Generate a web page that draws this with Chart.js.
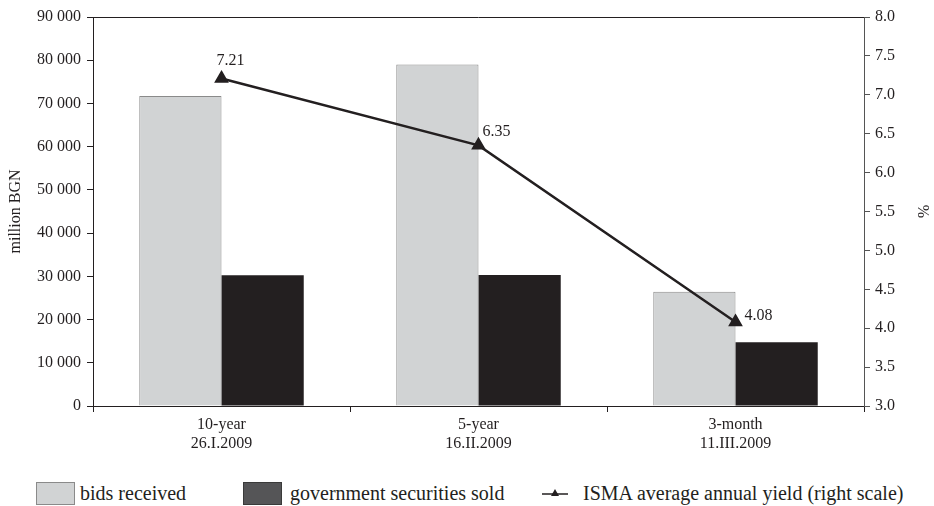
<!DOCTYPE html>
<html>
<head>
<meta charset="utf-8">
<script src="https://cdn.jsdelivr.net/npm/chart.js@4/dist/chart.umd.min.js"></script>
<style>
  html, body { margin: 0; padding: 0; background: #fff; }
  #wrap { position: relative; width: 934px; height: 506px; font-family: "Liberation Serif", "Times New Roman", serif; color: #231f20; }
  #chartBox { position: absolute; left: 0; top: 0; width: 934px; height: 466px; }
  .leg { position: absolute; top: 481px; height: 24px; line-height: 24px; font-size: 20px; white-space: nowrap; }
  .box { position: absolute; top: 482px; width: 39px; height: 23px; box-sizing: border-box; }
</style>
</head>
<body>
<div id="wrap">
  <div id="chartBox"><canvas id="myChart"></canvas></div>
  <div class="box" style="left:36px; background:#d1d3d4; border:1px solid #8a8a8a;"></div>
  <div class="leg" style="left:80px;">bids received</div>
  <div class="box" style="left:243px; background:#555557; border:1px solid #3a3a3a;"></div>
  <div class="leg" style="left:290px;">government securities sold</div>
  <canvas id="lineKey" width="28" height="12" style="position:absolute; left:541px; top:487px;"></canvas>
  <div class="leg" style="left:583px;">ISMA average annual yield (right scale)</div>
</div>
<script>
var categories = [["10-year", "26.I.2009"], ["5-year", "16.II.2009"], ["3-month", "11.III.2009"]];
var bidsReceived = [71700, 79000, 26450];
var securitiesSold = [30250, 30300, 14750];
var ismaYield = [7.21, 6.35, 4.08];
var leftTicks = [0, 10000, 20000, 30000, 40000, 50000, 60000, 70000, 80000, 90000];
var rightTicks = [3.0, 3.5, 4.0, 4.5, 5.0, 5.5, 6.0, 6.5, 7.0, 7.5, 8.0];

var ink = '#231f20';
var serif = '"Liberation Serif", "Times New Roman", serif';

// legend key for the line series
var k = document.getElementById('lineKey').getContext('2d');
k.strokeStyle = ink; k.lineWidth = 1.5;
k.beginPath(); k.moveTo(1, 7); k.lineTo(27, 7); k.stroke();
k.fillStyle = ink;
k.beginPath(); k.moveTo(14, 2); k.lineTo(18, 9); k.lineTo(10, 9); k.closePath(); k.fill();

// data labels for the yield line, frame on top
var labelOffsets = [[9, -18, 'center'], [4, -14, 'left'], [9, -6, 'left']];
var extras = {
    id: 'extras',
    afterDraw: function(chart) {
        var c = chart.ctx, a = chart.chartArea;
        c.save();
        c.strokeStyle = ink; c.lineWidth = 1;
        c.beginPath(); c.moveTo(a.left, a.top + 0.5); c.lineTo(a.right, a.top + 0.5); c.stroke();
        var meta = chart.getDatasetMeta(2);
        c.fillStyle = ink;
        c.font = '16px ' + serif;
        c.textBaseline = 'middle';
        meta.data.forEach(function(p, i) {
            var o = labelOffsets[i];
            c.textAlign = o[2];
            c.fillText(ismaYield[i].toFixed(2), p.x + o[0], p.y + o[1]);
        });
        c.restore();
    }
};

function fmt(v) {
    return String(v).replace(/\B(?=(\d{3})+(?!\d))/g, ' ');
}

var ctx = document.getElementById('myChart').getContext('2d');
var chart = new Chart(ctx, {
    type: 'bar',
    data: {
        labels: categories,
        datasets: [{
            label: 'bids received',
            data: bidsReceived,
            backgroundColor: '#d1d3d4',
            borderColor: '#8a8a8a',
            borderWidth: 1,
            yAxisID: 'y',
            order: 2
        }, {
            label: 'government securities sold',
            data: securitiesSold,
            backgroundColor: ink,
            borderColor: ink,
            borderWidth: 0,
            yAxisID: 'y',
            order: 2
        }, {
            type: 'line',
            label: 'ISMA average annual yield (right scale)',
            data: ismaYield,
            borderColor: ink,
            borderWidth: 2.5,
            pointStyle: 'triangle',
            pointRadius: 6,
            pointBackgroundColor: ink,
            pointBorderColor: ink,
            yAxisID: 'y1',
            order: 1
        }]
    },
    options: {
        responsive: true,
        maintainAspectRatio: false,
        animation: false,
        layout: { padding: { left: 6, top: 17, right: 0, bottom: 0 } },
        datasets: { bar: { categoryPercentage: 0.64, barPercentage: 1.0 } },
        plugins: { legend: { display: false }, tooltip: { enabled: false } },
        scales: {
            x: {
                grid: { display: true, drawOnChartArea: false, tickLength: 6, color: ink, offset: true },
                border: { color: ink, width: 1 },
                ticks: { color: ink, font: { family: serif, size: 16 }, padding: 3, maxRotation: 0 },
                afterFit: function(s) { s.height = 60; }
            },
            y: {
                position: 'left',
                min: 0, max: 90000,
                afterBuildTicks: function(s) { s.ticks = leftTicks.map(function(v) { return { value: v }; }); },
                grid: { drawOnChartArea: false, tickLength: 6, color: ink },
                border: { color: ink, width: 1 },
                ticks: { color: ink, font: { family: serif, size: 16 }, padding: 6, callback: function(v) { return fmt(v); } },
                title: { display: true, text: 'million BGN', color: ink, font: { family: serif, size: 16 }, padding: 0 },
                afterFit: function(s) { s.width = 87; }
            },
            y1: {
                position: 'right',
                min: 3, max: 8,
                afterBuildTicks: function(s) { s.ticks = rightTicks.map(function(v) { return { value: v }; }); },
                grid: { drawOnChartArea: false, tickLength: 6, color: '#555' },
                border: { color: '#555', width: 1 },
                ticks: { color: ink, font: { family: serif, size: 16 }, padding: 5, callback: function(v) { return v.toFixed(1); } },
                title: { display: true, text: '%', color: ink, font: { family: serif, size: 16 }, padding: 2 },
                afterFit: function(s) { s.width = 70; }
            }
        }
    },
    plugins: [extras]
});
</script>
</body>
</html>
